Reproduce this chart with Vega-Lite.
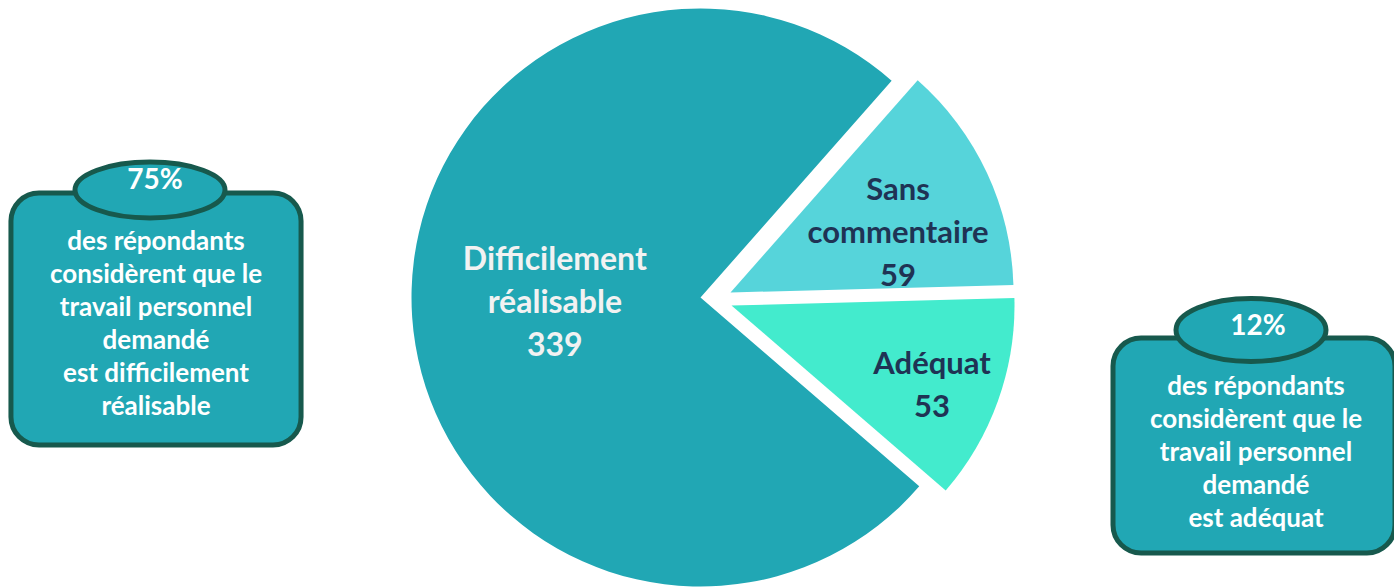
{
  "$schema": "https://vega.github.io/schema/vega-lite/v6.json",
  "width": 1394,
  "height": 587,
  "autosize": {"type": "fit", "contains": "padding"},
  "padding": 0,
  "background": "white",
  "config": {"view": {"stroke": null}},
  "datasets": {
    "reponses": [
      {"categorie": "Adéquat", "nombre": 53, "etiquette": "Adéquat\n53"},
      {"categorie": "Difficilement réalisable", "nombre": 339, "etiquette": "Difficilement\nréalisable\n339"},
      {"categorie": "Sans commentaire", "nombre": 59, "etiquette": "Sans\ncommentaire\n59"}
    ],
    "encadres": [
      {"cible": "Difficilement réalisable", "pourcentage": "75%", "texte": "des répondants\nconsidèrent que le\ntravail personnel\ndemandé\nest difficilement\nréalisable"},
      {"cible": "Adéquat", "pourcentage": "12%", "texte": "des répondants\nconsidèrent que le\ntravail personnel\ndemandé\nest adéquat"}
    ]
  },
  "layer": [
    {
      "data": {"name": "reponses"},
      "mark": {"type": "arc", "outerRadius": 289, "xOffset": 6, "yOffset": 5.5},
      "encoding": {
        "theta": {"field": "nombre", "type": "quantitative", "stack": true, "scale": {"domain": [0, 451], "range": [1.5446, 7.8278]}},
        "order": {"field": "categorie", "type": "ordinal", "sort": "ascending"},
        "color": {"field": "categorie", "type": "nominal", "scale": {"domain": ["Adéquat", "Difficilement réalisable", "Sans commentaire"], "range": ["#43ebcd", "#21a7b4", "#56d4da"]}, "legend": null},
        "opacity": {"condition": {"test": "datum.categorie === 'Difficilement réalisable'", "value": 1}, "value": 0}
      }
    },
    {
      "data": {"name": "reponses"},
      "mark": {"type": "arc", "outerRadius": 283, "xOffset": 36, "yOffset": 0.5},
      "encoding": {
        "theta": {"field": "nombre", "type": "quantitative", "stack": true, "scale": {"domain": [0, 451], "range": [1.5446, 7.8278]}},
        "order": {"field": "categorie", "type": "ordinal", "sort": "ascending"},
        "color": {"field": "categorie", "type": "nominal", "legend": null},
        "opacity": {"condition": {"test": "datum.categorie === 'Sans commentaire'", "value": 1}, "value": 0}
      }
    },
    {
      "data": {"name": "reponses"},
      "mark": {"type": "arc", "outerRadius": 283, "xOffset": 37, "yOffset": 13.5},
      "encoding": {
        "theta": {"field": "nombre", "type": "quantitative", "stack": true, "scale": {"domain": [0, 451], "range": [1.5446, 7.8278]}},
        "order": {"field": "categorie", "type": "ordinal", "sort": "ascending"},
        "color": {"field": "categorie", "type": "nominal", "legend": null},
        "opacity": {"condition": {"test": "datum.categorie === 'Adéquat'", "value": 1}, "value": 0}
      }
    },
    {
      "data": {"name": "reponses"},
      "mark": {"type": "text", "radius": 146, "xOffset": 6, "yOffset": 5.5, "dy": -47, "font": "Lato", "fontWeight": "bold", "fontSize": 32, "lineHeight": 43, "lineBreak": "\n", "fill": "#f2f2f2", "align": "center", "baseline": "middle"},
      "encoding": {
        "theta": {"field": "nombre", "type": "quantitative", "stack": true, "scale": {"domain": [0, 451], "range": [1.5446, 7.8278]}},
        "order": {"field": "categorie", "type": "ordinal", "sort": "ascending"},
        "detail": {"field": "categorie", "type": "nominal"},
        "text": {"field": "etiquette", "type": "nominal"},
        "opacity": {"condition": {"test": "datum.categorie === 'Difficilement réalisable'", "value": 1}, "value": 0}
      }
    },
    {
      "data": {"name": "reponses"},
      "mark": {"type": "text", "radius": 185, "xOffset": 36, "yOffset": 0.5, "dy": -23, "font": "Lato", "fontWeight": "bold", "fontSize": 31, "lineHeight": 43, "lineBreak": "\n", "fill": "#1f3354", "align": "center", "baseline": "middle"},
      "encoding": {
        "theta": {"field": "nombre", "type": "quantitative", "stack": true, "scale": {"domain": [0, 451], "range": [1.5446, 7.8278]}},
        "order": {"field": "categorie", "type": "ordinal", "sort": "ascending"},
        "detail": {"field": "categorie", "type": "nominal"},
        "text": {"field": "etiquette", "type": "nominal"},
        "opacity": {"condition": {"test": "datum.categorie === 'Sans commentaire'", "value": 1}, "value": 0}
      }
    },
    {
      "data": {"name": "reponses"},
      "mark": {"type": "text", "radius": 213, "xOffset": 37, "yOffset": 13.5, "dy": -12, "font": "Lato", "fontWeight": "bold", "fontSize": 31, "lineHeight": 43, "lineBreak": "\n", "fill": "#1f3354", "align": "center", "baseline": "middle"},
      "encoding": {
        "theta": {"field": "nombre", "type": "quantitative", "stack": true, "scale": {"domain": [0, 451], "range": [1.5446, 7.8278]}},
        "order": {"field": "categorie", "type": "ordinal", "sort": "ascending"},
        "detail": {"field": "categorie", "type": "nominal"},
        "text": {"field": "etiquette", "type": "nominal"},
        "opacity": {"condition": {"test": "datum.categorie === 'Adéquat'", "value": 1}, "value": 0}
      }
    },
    {
      "data": {"name": "encadres"},
      "mark": {"type": "point", "filled": true, "fill": "#21a7b4", "stroke": "#17594d", "strokeWidth": 5, "opacity": 1, "size": 90000},
      "encoding": {
        "x": {"field": "cible", "type": "nominal", "scale": {"type": "point", "domain": ["Difficilement réalisable", "Adéquat"], "range": [153, 1251], "padding": 0}, "axis": null},
        "y": {"field": "cible", "type": "nominal", "scale": {"type": "point", "domain": ["Difficilement réalisable", "Adéquat"], "range": [319, 445.5], "padding": 0}, "axis": null},
        "shape": {"field": "cible", "type": "nominal", "scale": {"domain": ["Difficilement réalisable", "Adéquat"], "range": ["M-0.78,-0.84H0.78A0.187,0.187 0 0 1 0.967,-0.653V0.653A0.187,0.187 0 0 1 0.78,0.84H-0.78A0.187,0.187 0 0 1 -0.967,0.653V-0.653A0.187,0.187 0 0 1 -0.78,-0.84Z", "M-0.753,-0.717H0.753A0.187,0.187 0 0 1 0.94,-0.53V0.53A0.187,0.187 0 0 1 0.753,0.717H-0.753A0.187,0.187 0 0 1 -0.94,0.53V-0.53A0.187,0.187 0 0 1 -0.753,-0.717Z"]}, "legend": null}
      }
    },
    {
      "data": {"name": "encadres"},
      "mark": {"type": "point", "filled": true, "fill": "#21a7b4", "stroke": "#17594d", "strokeWidth": 5, "opacity": 1, "size": 22500},
      "encoding": {
        "x": {"field": "cible", "type": "nominal", "scale": {"type": "point", "domain": ["Difficilement réalisable", "Adéquat"], "range": [147, 1248], "padding": 0}, "axis": null},
        "y": {"field": "cible", "type": "nominal", "scale": {"type": "point", "domain": ["Difficilement réalisable", "Adéquat"], "range": [190, 330], "padding": 0}, "axis": null},
        "shape": {"field": "cible", "type": "nominal", "scale": {"domain": ["Difficilement réalisable", "Adéquat"], "range": ["M-1,0A1,0.373 0 1 1 1,0A1,0.373 0 1 1 -1,0Z", "M-1,0A1,0.42 0 1 1 1,0A1,0.42 0 1 1 -1,0Z"]}, "legend": null}
      }
    },
    {
      "data": {"name": "encadres"},
      "mark": {"type": "text", "font": "Lato", "fontWeight": "bold", "fontSize": 28, "fill": "white", "align": "center", "baseline": "middle"},
      "encoding": {
        "x": {"field": "cible", "type": "nominal", "scale": {"type": "point", "domain": ["Difficilement réalisable", "Adéquat"], "range": [152, 1255], "padding": 0}, "axis": null},
        "y": {"field": "cible", "type": "nominal", "scale": {"type": "point", "domain": ["Difficilement réalisable", "Adéquat"], "range": [181, 327], "padding": 0}, "axis": null},
        "text": {"field": "pourcentage", "type": "nominal"}
      }
    },
    {
      "data": {"name": "encadres"},
      "mark": {"type": "text", "font": "Lato", "fontWeight": "bold", "fontSize": 26, "lineHeight": 33, "lineBreak": "\n", "fill": "white", "align": "center", "baseline": "middle"},
      "encoding": {
        "x": {"field": "cible", "type": "nominal", "scale": {"type": "point", "domain": ["Difficilement réalisable", "Adéquat"], "range": [153, 1253], "padding": 0}, "axis": null},
        "y": {"field": "cible", "type": "nominal", "scale": {"type": "point", "domain": ["Difficilement réalisable", "Adéquat"], "range": [242, 387], "padding": 0}, "axis": null},
        "text": {"field": "texte", "type": "nominal"}
      }
    }
  ],
  "resolve": {"scale": {"x": "independent", "y": "independent", "shape": "independent"}}
}
